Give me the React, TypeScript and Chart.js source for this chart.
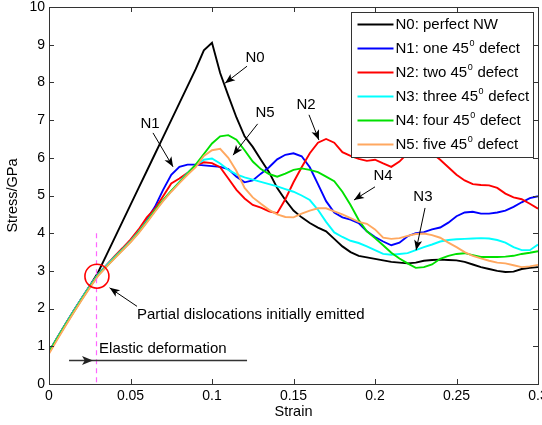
import React, { useEffect, useRef } from "react";
import { Chart, registerables } from "chart.js";

Chart.register(...registerables);

const strain = [0, 0.005, 0.01, 0.015, 0.02, 0.025, 0.03, 0.035, 0.04, 0.045, 0.05, 0.055, 0.06, 0.065, 0.07, 0.075, 0.08, 0.085, 0.09, 0.095, 0.1, 0.105, 0.11, 0.115, 0.12, 0.125, 0.13, 0.135, 0.14, 0.145, 0.15, 0.155, 0.16, 0.165, 0.17, 0.175, 0.18, 0.185, 0.19, 0.195, 0.2, 0.205, 0.21, 0.215, 0.22, 0.225, 0.23, 0.235, 0.24, 0.245, 0.25, 0.255, 0.26, 0.265, 0.27, 0.275, 0.28, 0.285, 0.29, 0.295, 0.3];

const n0 = [0.85, 1.22, 1.58, 1.93, 2.27, 2.6, 2.95, 3.4, 3.85, 4.3, 4.75, 5.2, 5.65, 6.1, 6.55, 7.0, 7.45, 7.9, 8.35, 8.85, 9.05, 8.25, 7.65, 7.07, 6.57, 6.29, 5.95, 5.62, 5.2, 4.88, 4.6, 4.42, 4.27, 4.15, 4.05, 3.85, 3.65, 3.5, 3.4, 3.36, 3.32, 3.28, 3.24, 3.22, 3.2, 3.22, 3.27, 3.29, 3.3, 3.29, 3.28, 3.24, 3.17, 3.1, 3.05, 3.0, 2.97, 2.98, 3.05, 3.08, 3.1];
const n1 = [0.85, 1.22, 1.58, 1.93, 2.27, 2.6, 2.9, 3.13, 3.36, 3.58, 3.8, 4.05, 4.36, 4.7, 5.15, 5.55, 5.76, 5.82, 5.82, 5.8, 5.78, 5.76, 5.7, 5.5, 5.35, 5.4, 5.58, 5.75, 5.96, 6.08, 6.12, 6.04, 5.75, 5.3, 4.85, 4.55, 4.42, 4.36, 4.27, 4.05, 3.9, 3.78, 3.68, 3.75, 3.92, 4.0, 4.03, 4.1, 4.15, 4.28, 4.45, 4.55, 4.57, 4.52, 4.52, 4.55, 4.6, 4.7, 4.82, 4.93, 4.98];
const n2 = [0.85, 1.22, 1.58, 1.93, 2.27, 2.6, 2.9, 3.14, 3.38, 3.6, 3.83, 4.1, 4.42, 4.65, 4.98, 5.32, 5.45, 5.6, 5.8, 5.88, 5.86, 5.75, 5.45, 5.15, 4.92, 4.75, 4.68, 4.58, 4.53, 4.9, 5.35, 5.75, 6.12, 6.4, 6.5, 6.4, 6.15, 6.05, 5.97, 5.92, 5.95, 5.85, 5.76, 5.9, 6.12, 6.25, 6.25, 6.12, 5.95, 5.75, 5.55, 5.4, 5.3, 5.28, 5.27, 5.2, 5.05, 4.95, 4.9, 4.78, 4.65];
const n3 = [0.85, 1.22, 1.58, 1.93, 2.27, 2.6, 2.9, 3.13, 3.36, 3.57, 3.79, 4.04, 4.32, 4.6, 4.87, 5.12, 5.36, 5.6, 5.8, 5.95, 5.98, 5.85, 5.68, 5.56, 5.48, 5.42, 5.36, 5.3, 5.24, 5.17, 5.1, 5.0, 4.88, 4.62, 4.3, 4.02, 3.9, 3.8, 3.74, 3.65, 3.55, 3.45, 3.43, 3.45, 3.47, 3.55, 3.63, 3.7, 3.78, 3.82, 3.84, 3.85, 3.86, 3.87, 3.86, 3.82, 3.75, 3.63, 3.55, 3.55, 3.7];
const n4 = [0.85, 1.2, 1.56, 1.9, 2.24, 2.57, 2.88, 3.1, 3.33, 3.55, 3.77, 4.02, 4.3, 4.6, 4.88, 5.12, 5.35, 5.58, 5.82, 6.1, 6.38, 6.57, 6.6, 6.48, 6.2, 5.9, 5.7, 5.57, 5.5, 5.58, 5.68, 5.72, 5.68, 5.62, 5.5, 5.38, 5.1, 4.75, 4.35, 4.05, 3.87, 3.68, 3.48, 3.33, 3.2, 3.08, 3.1, 3.17, 3.32, 3.4, 3.45, 3.47, 3.42, 3.37, 3.37, 3.37, 3.38, 3.4, 3.45, 3.48, 3.52];
const n5 = [0.8, 1.17, 1.53, 1.88, 2.22, 2.55, 2.86, 3.1, 3.32, 3.54, 3.76, 4.0, 4.28, 4.57, 4.85, 5.1, 5.33, 5.55, 5.75, 6.05, 6.2, 6.24, 6.0, 5.65, 5.2, 4.95, 4.78, 4.62, 4.5, 4.43, 4.42, 4.52, 4.6, 4.66, 4.66, 4.58, 4.5, 4.4, 4.3, 4.25, 4.1, 3.88, 3.85, 3.87, 3.93, 3.98, 3.99, 3.95, 3.88, 3.75, 3.63, 3.5, 3.4, 3.33, 3.27, 3.22, 3.2, 3.15, 3.1, 3.12, 3.16];

const seriesValues = [n0, n1, n2, n3, n4, n5];
const seriesLabels = ["N0: perfect NW", "N1: one 45⁰ defect", "N2: two 45⁰ defect", "N3: three 45⁰ defect", "N4: four 45⁰ defect", "N5: five 45⁰ defect"];
const seriesColors = ["#000000", "#0000ff", "#ff0000", "#00ffff", "#00e000", "#ffa860"];
const shortNames = ["N0", "N1", "N2", "N3", "N4", "N5"];

const xTicks = [0, 0.05, 0.1, 0.15, 0.2, 0.25, 0.3];
const yTicks = [0, 1, 2, 3, 4, 5, 6, 7, 8, 9, 10];

// annotation callouts in data units: label position, arrow start, arrow tip
const calloutLabelAt = [[0.1264, 8.65], [0.062, 6.9], [0.1577, 7.4], [0.2294, 4.96], [0.2049, 5.52], [0.1325, 7.19]];
const calloutFrom = [[0.1215, 8.43], [0.0638, 6.66], [0.1595, 7.14], [0.2307, 4.67], [0.2, 5.23], [0.128, 6.9]];
const calloutTip = [[0.108, 7.98], [0.0761, 5.76], [0.1656, 6.47], [0.2252, 3.55], [0.1871, 4.88], [0.1129, 6.07]];

const emitStrain = 0.0294;
const emitStress = 2.86;
const emitText = "Partial dislocations initially emitted";
const emitTextAt = [0.054, 1.83];
const emitArrowFrom = [0.054, 2.06];
const emitArrowTip = [0.0372, 2.55];
const dashStrain = 0.029;
const dashTop = 4.0;
const elasticText = "Elastic deformation";
const elasticTextAt = [0.0307, 0.92];
const elasticLine = [0.0123, 0.1215, 0.64];
const elasticTip = 0.027;

const FONT = "'Liberation Sans', Arial, Helvetica, sans-serif";

function drawArrowHead(ctx: CanvasRenderingContext2D, x1: number, y1: number, x2: number, y2: number, len: number, half: number) {
  const a = Math.atan2(y2 - y1, x2 - x1);
  const c = Math.cos(a), s = Math.sin(a);
  const bx = x2 - c * len, by = y2 - s * len;
  const nx = x2 - c * len * 0.75, ny = y2 - s * len * 0.75;
  ctx.beginPath();
  ctx.moveTo(x2, y2);
  ctx.lineTo(bx - s * half, by + c * half);
  ctx.lineTo(nx, ny);
  ctx.lineTo(bx + s * half, by - c * half);
  ctx.closePath();
  ctx.fill();
}

function drawArrow(ctx: CanvasRenderingContext2D, x1: number, y1: number, x2: number, y2: number, color: string, lw: number) {
  ctx.save();
  ctx.strokeStyle = color;
  ctx.fillStyle = color;
  ctx.lineWidth = lw;
  ctx.beginPath();
  ctx.moveTo(x1, y1);
  ctx.lineTo(x2, y2);
  ctx.stroke();
  drawArrowHead(ctx, x1, y1, x2, y2, 10, 4);
  ctx.restore();
}

function drawLabelWithSup(ctx: CanvasRenderingContext2D, text: string, x: number, y: number, size: number) {
  const parts = text.split("⁰");
  let cx = x;
  ctx.textBaseline = "middle";
  ctx.textAlign = "left";
  for (let i = 0; i < parts.length; i++) {
    ctx.font = `${size}px ${FONT}`;
    ctx.fillText(parts[i], cx, y);
    cx += ctx.measureText(parts[i]).width;
    if (i < parts.length - 1) {
      ctx.font = `${Math.round(size * 0.62)}px ${FONT}`;
      ctx.fillText("0", cx + 0.5, y - 5);
      cx += ctx.measureText("0").width + 1;
    }
  }
}

const decorPlugin = {
  id: "decor",
  afterDatasetsDraw(chart: any) {
    const ctx: CanvasRenderingContext2D = chart.ctx;
    const xs = chart.scales.x, ys = chart.scales.y;
    const px = (v: number) => xs.getPixelForValue(v);
    const py = (v: number) => ys.getPixelForValue(v);
    ctx.save();
    ctx.strokeStyle = "#ff66ff";
    ctx.lineWidth = 1.2;
    ctx.setLineDash([5, 4]);
    ctx.beginPath();
    ctx.moveTo(Math.round(px(dashStrain)) + 0.5, py(dashTop));
    ctx.lineTo(Math.round(px(dashStrain)) + 0.5, py(0));
    ctx.stroke();
    ctx.setLineDash([]);
    ctx.strokeStyle = "#ff0000";
    ctx.lineWidth = 1.6;
    ctx.beginPath();
    ctx.arc(px(emitStrain), py(emitStress), 12, 0, Math.PI * 2);
    ctx.stroke();
    for (let i = 0; i < shortNames.length; i++) {
      ctx.font = `15px ${FONT}`;
      ctx.textAlign = "center";
      ctx.textBaseline = "middle";
      ctx.fillStyle = "#000";
      ctx.fillText(shortNames[i], px(calloutLabelAt[i][0]), py(calloutLabelAt[i][1]));
      drawArrow(ctx, px(calloutFrom[i][0]), py(calloutFrom[i][1]), px(calloutTip[i][0]), py(calloutTip[i][1]), "#000", 1);
    }
    ctx.font = `15px ${FONT}`;
    ctx.textAlign = "left";
    ctx.textBaseline = "middle";
    ctx.fillStyle = "#000";
    ctx.fillText(emitText, px(emitTextAt[0]), py(emitTextAt[1]));
    drawArrow(ctx, px(emitArrowFrom[0]), py(emitArrowFrom[1]), px(emitArrowTip[0]), py(emitArrowTip[1]), "#000", 1);
    ctx.fillText(elasticText, px(elasticTextAt[0]), py(elasticTextAt[1]));
    ctx.strokeStyle = "#333";
    ctx.lineWidth = 1.6;
    ctx.beginPath();
    const ly = Math.round(py(elasticLine[2])) + 0.5;
    ctx.moveTo(px(elasticLine[0]), ly);
    ctx.lineTo(px(elasticLine[1]), ly);
    ctx.stroke();
    ctx.fillStyle = "#222";
    drawArrowHead(ctx, px(elasticLine[0]), ly, px(elasticTip), ly, 11, 4.5);
    ctx.restore();
  },
  afterDraw(chart: any) {
    const ctx: CanvasRenderingContext2D = chart.ctx;
    const { left, right, top, bottom } = chart.chartArea;
    const xs = chart.scales.x, ys = chart.scales.y;
    ctx.save();
    ctx.strokeStyle = "#333";
    ctx.lineWidth = 1;
    ctx.strokeRect(Math.round(left) + 0.5, Math.round(top) + 0.5, Math.round(right - left), Math.round(bottom - top));
    ctx.beginPath();
    for (const v of xTicks) {
      const x = Math.round(xs.getPixelForValue(v)) + 0.5;
      ctx.moveTo(x, bottom); ctx.lineTo(x, bottom - 5);
      ctx.moveTo(x, top); ctx.lineTo(x, top + 5);
    }
    for (const v of yTicks) {
      const y = Math.round(ys.getPixelForValue(v)) + 0.5;
      ctx.moveTo(left, y); ctx.lineTo(left + 5, y);
      ctx.moveTo(right, y); ctx.lineTo(right - 5, y);
    }
    ctx.stroke();
    ctx.fillStyle = "#000";
    ctx.font = `14.5px ${FONT}`;
    ctx.textAlign = "center";
    ctx.textBaseline = "middle";
    ctx.fillText("Strain", (left + right) / 2, bottom + 28);
    ctx.save();
    ctx.translate(13, (top + bottom) / 2);
    ctx.rotate(-Math.PI / 2);
    ctx.fillText("Stress/GPa", 0, 0);
    ctx.restore();
    const lw = 182, lh = 145;
    const lx = Math.round(right - 5 - lw) + 0.5;
    const ly = Math.round(top + 5) + 0.5;
    ctx.fillStyle = "#fff";
    ctx.fillRect(lx, ly, lw, lh);
    ctx.strokeStyle = "#333";
    ctx.lineWidth = 1;
    ctx.strokeRect(lx, ly, lw, lh);
    for (let i = 0; i < seriesLabels.length; i++) {
      const ry = ly + 12 + i * 24;
      ctx.strokeStyle = seriesColors[i];
      ctx.lineWidth = 1.8;
      ctx.beginPath();
      ctx.moveTo(lx + 6, ry);
      ctx.lineTo(lx + 42, ry);
      ctx.stroke();
      ctx.fillStyle = "#000";
      drawLabelWithSup(ctx, seriesLabels[i], lx + 44, ry, 15);
    }
    ctx.restore();
  },
};

export default function App() {
  const ref = useRef<HTMLCanvasElement | null>(null);
  useEffect(() => {
    if (!ref.current) return;
    const tickFont = { family: FONT, size: 14 };
    const chart = new Chart(ref.current, {
      type: "line",
      data: {
        datasets: seriesValues.map((vals, i) => ({
          label: seriesLabels[i],
          data: strain.map((s, j) => ({ x: s, y: vals[j] })),
          borderColor: seriesColors[i],
          borderWidth: 1.9,
          pointRadius: 0,
          tension: 0,
          fill: false,
          order: seriesValues.length - i,
        })),
      },
      options: {
        responsive: false,
        animation: false,
        devicePixelRatio: 1,
        layout: { padding: { left: 0, right: 4, top: 7, bottom: 0 } },
        plugins: { legend: { display: false }, tooltip: { enabled: false } },
        scales: {
          x: {
            type: "linear",
            min: 0,
            max: 0.3,
            afterBuildTicks: (s: any) => { s.ticks = xTicks.map((v) => ({ value: v })); },
            afterFit: (s: any) => { s.height = 41; s.paddingLeft = 0; s.paddingRight = 0; },
            ticks: {
              font: tickFont,
              color: "#000",
              padding: 4,
              maxRotation: 0,
              autoSkip: false,
              callback: (v: any) => String(+Number(v).toFixed(2)),
            },
            grid: { display: false, drawTicks: false },
            border: { display: false },
          },
          y: {
            type: "linear",
            min: 0,
            max: 10,
            afterBuildTicks: (s: any) => { s.ticks = yTicks.map((v) => ({ value: v })); },
            afterFit: (s: any) => { s.width = 49; s.paddingTop = 0; s.paddingBottom = 0; },
            ticks: { font: tickFont, color: "#000", padding: 4, autoSkip: false },
            grid: { display: false, drawTicks: false },
            border: { display: false },
          },
        },
      },
      plugins: [decorPlugin],
    } as any);
    return () => chart.destroy();
  }, []);
  return (
    <div style={{ position: "fixed", left: 0, top: 0, width: 542, height: 425, background: "#fff" }}>
      <canvas ref={ref} width={542} height={425} style={{ display: "block" }} />
    </div>
  );
}
